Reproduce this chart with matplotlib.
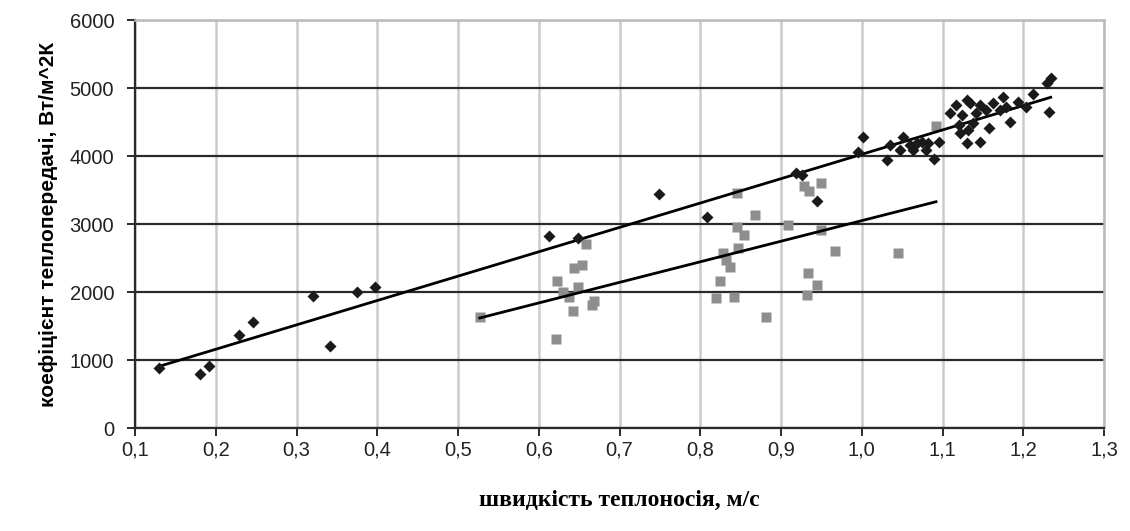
import numpy as np
import matplotlib
matplotlib.use('Agg')
from matplotlib import pyplot as plt

# series 1: black diamonds (velocity m/s, heat transfer coefficient W/m^2K)
black_x = [0.130, 0.180, 0.192, 0.229, 0.246, 0.320, 0.341, 0.375, 0.397,
           0.613, 0.649, 0.749, 0.808, 0.919, 0.926, 0.944, 0.995, 1.002,
           1.031, 1.035, 1.047, 1.051, 1.060, 1.064, 1.068, 1.075, 1.080,
           1.082, 1.089, 1.096, 1.109, 1.117, 1.121, 1.122, 1.124, 1.130,
           1.130, 1.132, 1.134, 1.138, 1.142, 1.146, 1.146, 1.154, 1.157,
           1.163, 1.171, 1.175, 1.179, 1.183, 1.194, 1.204, 1.212, 1.230,
           1.234, 1.232]
black_y = [882, 794, 915, 1371, 1567, 1944, 1209, 2007, 2072,
           2826, 2792, 3443, 3110, 3747, 3722, 3345, 4060, 4276,
           3943, 4163, 4090, 4286, 4163, 4090, 4200, 4210, 4090,
           4190, 3953, 4212, 4629, 4751, 4457, 4335, 4600, 4824,
           4188, 4384, 4776, 4482, 4629, 4751, 4212, 4677, 4408,
           4776, 4677, 4873, 4726, 4505, 4800, 4726, 4908, 5079,
           5143, 4652]

# series 2: grey squares
grey_x = [0.527, 0.621, 0.622, 0.630, 0.637, 0.642, 0.644, 0.649, 0.654,
          0.659, 0.666, 0.668, 0.820, 0.824, 0.828, 0.832, 0.837, 0.842,
          0.845, 0.845, 0.847, 0.854, 0.868, 0.881, 0.909, 0.928, 0.935,
          0.949, 0.949, 0.967, 0.934, 0.944, 0.932, 1.045, 1.092]
grey_y = [1631, 1308, 2165, 2007, 1934, 1728, 2351, 2081, 2400,
          2708, 1812, 1875, 1910, 2169, 2580, 2473, 2366, 1925,
          3453, 2963, 2645, 2841, 3134, 1640, 2988, 3561, 3492,
          3600, 2914, 2610, 2278, 2106, 1959, 2580, 4442]

x_ticks = np.arange(0.1, 1.31, 0.1)
y_ticks = np.arange(0, 6001, 1000)

plt.rcParams['font.family'] = ['Liberation Sans', 'DejaVu Sans']

fig = plt.figure(figsize=(11.3, 5.31), dpi=100)
ax = fig.add_axes([0.1195, 0.1934, 0.8575, 0.7689])

# linear trendlines over each series' data range
for xs, ys in [(black_x, black_y), (grey_x, grey_y)]:
    k, b = np.polyfit(xs, ys, 1)
    xr = np.array([min(xs), max(xs)])
    ax.plot(xr, k * xr + b, color='black', lw=2.0, zorder=4)

ax.plot(grey_x, grey_y, 's', color='#8e8e8e', ms=7.5, mec='none', zorder=3)
ax.plot(black_x, black_y, 'D', color='#1a1a1a', ms=6.2, mec='none', zorder=5)

ax.set_xlim(0.1, 1.3)
ax.set_ylim(0, 6000)
ax.set_xticks(x_ticks)
ax.set_xticklabels([f'{v:.1f}'.replace('.', ',') for v in x_ticks])
ax.set_yticks(y_ticks)
ax.set_yticklabels([str(v) for v in y_ticks])

ax.grid(axis='y', color='#2a2a2a', lw=1.6, zorder=1)
ax.grid(axis='x', color='#cccccc', lw=1.8, zorder=1)
ax.set_axisbelow(True)

for side in ['left', 'bottom']:
    ax.spines[side].set_color('#2a2a2a')
    ax.spines[side].set_linewidth(1.6)
for side in ['top', 'right']:
    ax.spines[side].set_color('#bbbbbb')
    ax.spines[side].set_linewidth(1.8)

ax.tick_params(direction='out', length=6, width=1.4, color='#2a2a2a',
               labelsize=14.5, labelcolor='#222222')
ax.tick_params(axis='x', pad=3)
ax.tick_params(axis='y', pad=9)

ax.set_ylabel('коефіцієнт теплопередачі, Вт/м^2К', fontsize=15,
              fontweight='bold', labelpad=8)
ax.set_xlabel('швидкість теплоносія, м/с', fontsize=17, fontweight='bold',
              family=['Liberation Serif', 'DejaVu Serif'], labelpad=22)

fig.savefig('out.png', dpi=100)
